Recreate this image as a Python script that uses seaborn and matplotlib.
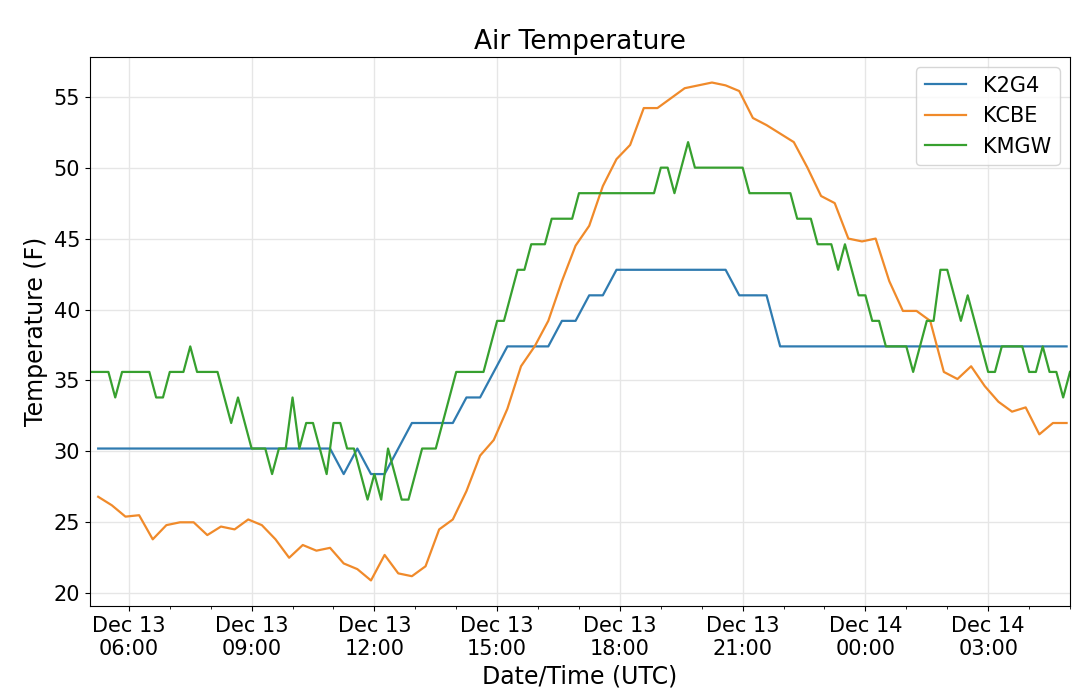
import pandas as pd
import seaborn as sns
import matplotlib.pyplot as plt
import matplotlib.dates as mdates

# K2G4 and KCBE: 20-minute samples from Dec 13 05:15
k2g4 = [30.2] * 18 + [28.4, 30.2, 28.4, 28.4, 30.2, 32.0, 32.0, 32.0, 32.0, 33.8, 33.8,
                      35.6, 37.4, 37.4, 37.4, 37.4, 39.2, 39.2, 41.0, 41.0,
                      42.8, 42.8, 42.8, 42.8, 42.8, 42.8, 42.8, 42.8, 42.8,
                      41.0, 41.0, 41.0] + [37.4] * 22
kcbe = [26.8, 26.2, 25.4, 25.5, 23.8, 24.8, 25.0, 25.0, 24.1, 24.7, 24.5, 25.2,
        24.8, 23.8, 22.5, 23.4, 23.0, 23.2, 22.1, 21.7, 20.9, 22.7, 21.4, 21.2,
        21.9, 24.5, 25.2, 27.2, 29.7, 30.8, 33.0, 36.0, 37.4, 39.2, 42.0, 44.5,
        45.9, 48.7, 50.6, 51.6, 54.2, 54.2, 54.9, 55.6, 55.8, 56.0, 55.8, 55.4,
        53.5, 53.0, 52.4, 51.8, 50.0, 48.0, 47.5, 45.0, 44.8, 45.0, 42.0, 39.9,
        39.9, 39.2, 35.6, 35.1, 36.0, 34.6, 33.5, 32.8, 33.1, 31.2, 32.0, 32.0]
# KMGW: 10-minute samples from Dec 13 05:00
kmgw = [35.6, 35.6, 35.6, 35.6, 33.8, 35.6,
        35.6, 35.6, 35.6, 35.6, 33.8, 33.8,
        35.6, 35.6, 35.6, 37.4, 35.6, 35.6,
        35.6, 35.6, 33.8, 32.0, 33.8, 32.0,
        30.2, 30.2, 30.2, 28.4, 30.2, 30.2,
        33.8, 30.2, 32.0, 32.0, 30.2, 28.4,
        32.0, 32.0, 30.2, 30.2, 28.4, 26.6,
        28.4, 26.6, 30.2, 28.4, 26.6, 26.6,
        28.4, 30.2, 30.2, 30.2, 32.0, 33.8,
        35.6, 35.6, 35.6, 35.6, 35.6, 37.4,
        39.2, 39.2, 41.0, 42.8, 42.8, 44.6,
        44.6, 44.6, 46.4, 46.4, 46.4, 46.4,
        48.2, 48.2, 48.2, 48.2, 48.2, 48.2,
        48.2, 48.2, 48.2, 48.2, 48.2, 48.2,
        50.0, 50.0, 48.2, 50.0, 51.8, 50.0,
        50.0, 50.0, 50.0, 50.0, 50.0, 50.0,
        50.0, 48.2, 48.2, 48.2, 48.2, 48.2,
        48.2, 48.2, 46.4, 46.4, 46.4, 44.6,
        44.6, 44.6, 42.8, 44.6, 42.8, 41.0,
        41.0, 39.2, 39.2, 37.4, 37.4, 37.4,
        37.4, 35.6, 37.4, 39.2, 39.2, 42.8,
        42.8, 41.0, 39.2, 41.0, 39.2, 37.4,
        35.6, 35.6, 37.4, 37.4, 37.4, 37.4,
        35.6, 35.6, 37.4, 35.6, 35.6, 33.8,
        35.6]

t20 = pd.date_range("2020-12-13 05:15", periods=len(kcbe), freq="20min")
t10 = pd.date_range("2020-12-13 05:00", periods=len(kmgw), freq="10min")
df = pd.concat([
    pd.DataFrame({"time": t20, "temp": k2g4, "station": "K2G4"}),
    pd.DataFrame({"time": t20, "temp": kcbe, "station": "KCBE"}),
    pd.DataFrame({"time": t10, "temp": kmgw, "station": "KMGW"}),
])

fig = plt.figure(figsize=(10.8, 6.97), dpi=100)
ax = fig.add_axes([90 / 1080, 1 - 606 / 697, 980 / 1080, 549 / 697])
sns.lineplot(data=df, x="time", y="temp", hue="station", ax=ax, linewidth=1.6,
             palette=["#2f7bb0", "#f08a2a", "#37a02f"])
ax.set_xlim(pd.Timestamp("2020-12-13 05:03"), pd.Timestamp("2020-12-14 05:00"))
ax.set_ylim(19.1, 57.8)
ax.xaxis.set_major_locator(mdates.HourLocator(byhour=[0, 3, 6, 9, 12, 15, 18, 21]))
ax.xaxis.set_minor_locator(mdates.HourLocator())
ax.xaxis.set_major_formatter(mdates.DateFormatter("%b %d\n%H:%M"))
ax.grid(True, color="#e6e6e6", linewidth=1)
ax.tick_params(labelsize=15)
ax.set_title("Air Temperature", fontsize=19)
ax.set_xlabel("Date/Time (UTC)", fontsize=17)
ax.set_ylabel("Temperature (F)", fontsize=17)
ax.legend(title=None, fontsize=15, loc="upper right")
fig.savefig("out.png")
